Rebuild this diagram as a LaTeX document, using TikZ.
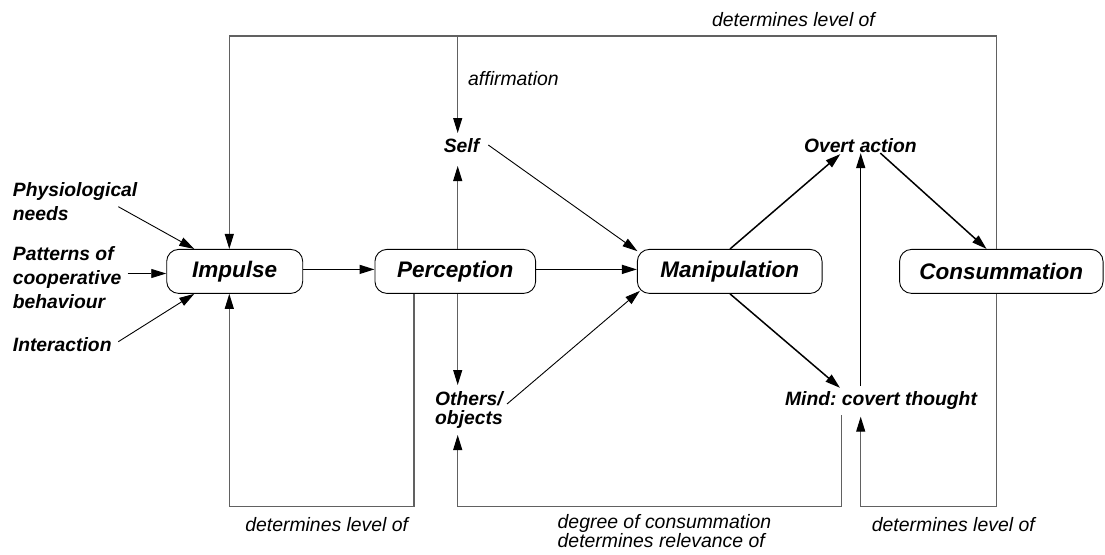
\documentclass[tikz,border=0pt]{standalone}
\usepackage{fontspec}
\setmainfont{Liberation Sans}
\usetikzlibrary{arrows.meta,calc}
\frenchspacing

\begin{document}
\begin{tikzpicture}[x=1pt,y=-1pt,
  box/.style={draw, line width=0.9pt, rounded corners=12pt, fill=white,
    minimum height=44pt, inner sep=0pt,
    font=\fontsize{22.5}{27}\selectfont\bfseries\itshape},
  lbl/.style={inner sep=0pt, align=left,
    font=\fontsize{19.3}{24}\selectfont\bfseries\itshape},
  note/.style={inner sep=0pt, align=left,
    font=\fontsize{19.4}{24}\selectfont\itshape},
  tip/.style={-{Triangle[length=15pt,width=9pt,color=black]}},
  flow/.style={tip, line width=1.5pt},
  thinflow/.style={tip, line width=0.9pt},
  loopline/.style={draw=black!62, line width=1.1pt, line join=miter},
]
\useasboundingbox (0,0) rectangle (1105,554);

% process boxes
\node[box, minimum width=136pt]   (imp) at (234.7,271.4)  {Impulse};
\node[box, minimum width=160.7pt] (per) at (455.3,271.4)  {Perception};
\node[box, minimum width=184.7pt] (man) at (729.7,271.4)  {Manipulation};
\node[box, minimum width=203.5pt] (con) at (1001.3,271.4) {Consummation};

% inputs on the left
\node[lbl, anchor=north west] (phys) at (12.7,182) {Physiological\\needs};
\node[lbl, anchor=north west] (pat)  at (12.7,246) {Patterns of\\cooperative\\behaviour};
\node[lbl, anchor=base west]  (int)  at (12.7,351.7) {Interaction};

% inner labels
\node[lbl, anchor=base] (self)  at (461.5,152.7) {Self};
\node[lbl, anchor=base] (overt) at (860.3,152.7) {Overt action};
\node[lbl, anchor=base] (mind)  at (881,405)     {Mind: covert thought};
\node[lbl, anchor=north west, font=\fontsize{19.3}{19}\selectfont\bfseries\itshape]
  (oth) at (435,391) {Others/\\objects};

% loop annotations
\node[note, anchor=base west] (aff)  at (468,85)      {affirmation};
\node[note, anchor=base]      (dtop) at (793.5,26.5)  {determines level of};
\node[note, anchor=base]      (dl)   at (326.7,531.7) {determines level of};
\node[note, anchor=base]      (dr)   at (953.3,531.7) {determines level of};
\node[note, anchor=north west, font=\fontsize{19.4}{15.5}\selectfont\itshape]
  (deg) at (557.5,514) {degree of consummation\\determines relevance of};

% corner points of the feedback loops
\coordinate (tl)  at (229.3,36);
\coordinate (tr)  at (996.7,36);
\coordinate (ax)  at (457.7,36);
\coordinate (bot) at (0,506.7);
\coordinate (lx)  at (414,0);
\coordinate (mx)  at (841.7,0);
\coordinate (rx)  at (860.7,0);
\coordinate (vx)  at (457.7,0);

% free ends of the input arrows
\coordinate (physout) at (118.3,206.7);
\coordinate (patout)  at (127.7,273.5);
\coordinate (intout)  at (118.3,341.7);
\coordinate (selfout) at (488.3,145);
\coordinate (othout)  at (507,404);

% top loop: consummation -> impulse, affirmation -> self
\draw[loopline, tip] (con.north -| tr) -- (tr) -- (tl) -- (imp.north -| tl);
\draw[loopline, tip] (ax) -- (vx |- 0,133);

% perception -> self / others
\draw[loopline, tip] (per.north -| vx) -- (vx |- 0,166);
\draw[loopline, tip] (per.south -| vx) -- (vx |- 0,385);

% bottom loops
\draw[loopline, tip] (per.south -| lx) -- (lx |- bot) -- (tl |- bot) -- (imp.south -| tl);
\draw[loopline, tip] (mx |- 0,415) -- (mx |- bot) -- (vx |- bot) -- (vx |- 0,435);
\draw[loopline, tip] (con.south -| tr) -- (tr |- bot) -- (rx |- bot) -- (rx |- 0,416.7);

% inputs
\draw[thinflow] (physout) -- ($(imp.north west)+(28,0)$);
\draw[thinflow] (patout) -- (imp.west |- patout);
\draw[thinflow] (intout) -- ($(imp.south west)+(28,0)$);

% main flow
\draw[flow] ($(imp.east)+(0,-2)$) -- ($(per.west)+(0,-2)$);
\draw[flow] ($(per.east)+(0,-2)$) -- ($(man.west)+(0,-2)$);
\draw[thinflow] (selfout) -- ($(man.north west)+(0.5,2.2)$);
\draw[thinflow] (othout) -- ($(man.south west)+(3,-3)$);
\draw[flow] ($(man.north)+(0.3,0)$) -- ($(overt.south)+(-20,1)$);
\draw[flow] ($(overt.south)+(20,0)$) -- ($(con.north west)+(87.5,0)$);
\draw[flow] ($(man.south)+(0.3,0)$) -- ($(mind.north)+(-41,-3)$);
\draw[flow] (rx |- 0,386) -- (rx |- overt.south);
\end{tikzpicture}
\end{document}
